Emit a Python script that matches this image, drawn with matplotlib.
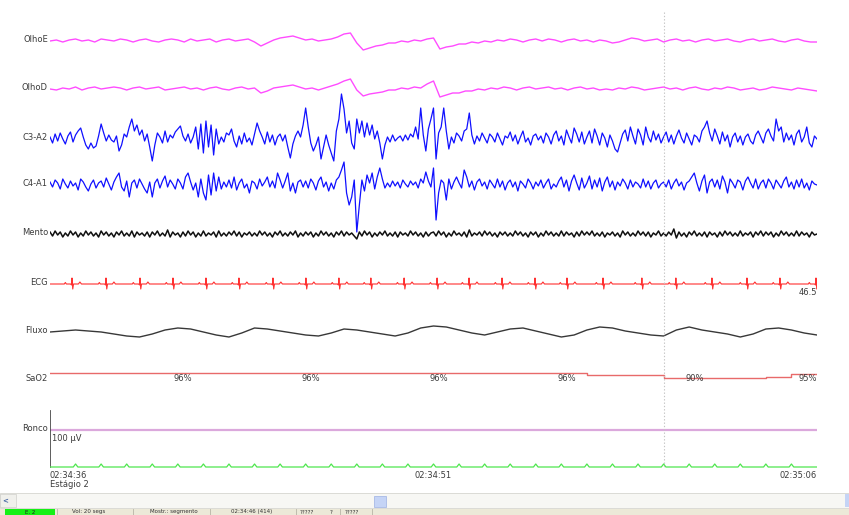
import numpy as np
import matplotlib
matplotlib.use("Agg")
import matplotlib.pyplot as plt
from matplotlib.patches import Rectangle

W, H = 849, 515
EPOCH_S = 30

# Trace deflections in screen pixels (positive = up), sampled uniformly over the epoch
olho_e = [0, 1, -1, 1, 2, 0, 1, -1, 2, 1,
          0, 2, 1, -1, 1, 2, 0, -1, 1, 2,
          1, -1, 2, 0, 1, 2, -1, 1, 2, 0,
          1, 2, -1, -5, -2, 1, 3, 4, 5, 3,
          1, 2, 0, 1, 2, 4, 7, 8, -2, -9,
          -7, -5, -4, -2, -2, 0, -1, 1, 0, 2,
          3, -8, -6, -5, -3, -3, -1, -2, 0, -1,
          1, 0, 2, 1, -1, 1, 2, 0, 2, 1,
          -1, 1, 2, 0, 1, -1, 1, 0, -2, -1,
          1, 3, 2, 0, 1, 2, -1, 1, 2, 0,
          1, -1, 1, 2, 0, 1, 2, 0, -1, 1,
          2, 0, 1, 2, 0, -1, 1, 2, 0, -1,
          -1]
olho_d = [0, -1, 1, 0, 2, -1, 1, 2, 0, 1,
          2, 1, -1, 1, 2, 0, 1, 2, -1, 0,
          1, 2, 0, 1, -1, 1, 2, 0, -1, 1,
          2, 0, 1, -4, -2, 1, 2, 3, 4, 2,
          0, 1, -1, 1, 3, 5, 8, 10, -1, -7,
          -5, -4, -3, -1, -1, 1, 0, 2, 1, 5,
          8, -8, -6, -4, -4, -2, -2, 0, -1, 1,
          0, 2, 1, -1, 1, 2, 0, 1, 2, 0,
          1, -1, 1, 2, 0, 1, -1, 0, -1, 1,
          0, 2, 1, -1, 0, 1, 2, 0, 1, -1,
          1, 2, 0, -1, 1, 0, 2, 1, -1, 0,
          1, -1, 0, 2, 1, 0, -1, 1, 0, -1,
          -2]
c3_a2 = [2, -4, 5, -2, 6, 0, -5, 3, 7, -3,
         4, 8, 11, 2, -6, -10, -4, -9, -7, 3,
         15, 6, -2, 4, -1, -3, 3, -12, -6, 5,
         2, 12, 20, 8, 14, 4, 9, -2, 5, -8,
         -22, -6, 6, 2, -4, 8, -3, 4, 1, 7,
         10, 13, 3, -2, 5, -4, 2, 12, -10, 15,
         -14, 18, -8, 14, -16, 10, -5, 2, -3, 6,
         4, 10, -2, -8, 3, -5, 6, -3, 1, -6,
         5, 16, 8, 2, -5, 7, -3, 4, -6, 2,
         5, -2, 4, -8, -19, -5, 3, 8, 2, 14,
         31, 12, -4, -12, -6, 2, -20, -8, 4, -6,
         -14, -22, 8, 20, 45, 30, 6, 18, -4, -10,
         20, 6, 18, 2, 16, 4, 14, 0, 8, -4,
         -20, -6, 2, -3, 4, -2, 1, 3, -2, 4,
         -1, 5, 2, 12, 0, 31, 4, -12, 10, 20,
         31, -20, 6, 12, 31, 8, -10, 2, -4, 6,
         3, -2, 8, 10, 26, 4, -5, 3, -2, 6,
         1, -4, 5, 2, -3, 6, 0, -6, 3, 1,
         7, -2, 4, -5, 2, 8, -3, 1, -6, 3,
         5, -1, 3, -4, 6, 2, -5, 4, 8, -2,
         3, -6, 9, 2, -4, 11, 5, -3, 7, -5,
         2, 8, -4, 10, 3, -6, 6, 1, -8, 4,
         -2, -10, -13, -4, 5, 9, -2, 12, 3, -5,
         10, 4, -6, 12, 2, -3, 8, -1, 5, -4,
         2, 7, -3, 4, -5, 3, 9, 1, -4, 6,
         0, -6, 4, 2, -3, 8, 12, 18, 6, -2,
         10, 3, -5, 7, -2, 4, -8, 2, 6, -3,
         3, -6, 2, 5, -2, -5, 4, 8, 2, -4,
         6, 10, 3, -2, 20, 8, 12, -3, 6, -1,
         4, -6, 5, 9, -3, 2, 12, -4, -8, 3,
         0]
c4_a1 = [3, -2, 5, 2, -4, 6, 1, -3, 4, -1,
         2, -5, 6, 3, -2, -6, 1, 5, -3, 2,
         4, -2, 7, 1, -5, 3, 8, 12, -2, -6,
         4, -12, 2, 5, -3, 6, 1, -4, -8, 3,
         -12, 2, 6, -3, 4, 9, -2, 5, 1, -4,
         6, 2, -4, 8, 12, 3, -5, 2, -12, 6,
         -8, -15, 10, -10, 12, -6, 8, -4, 3, -2,
         5, -3, 8, -5, 2, 6, -3, 1, -8, 4,
         2, -4, 6, -1, 3, 8, -2, 4, -3, 12,
         5, -3, 4, 12, -6, 2, -8, 3, 5, -2,
         4, -3, 6, 2, -5, 4, 8, -2, 3, -6,
         2, -4, 5, 8, 15, 23, -8, -20, -12, 5,
         -47, -20, 5, -6, 10, 2, 12, -4, 8, 17,
         6, -3, 2, -2, 4, -1, 3, -3, 5, 1,
         -2, 4, 0, 3, -3, 6, 2, 13, 4, -2,
         17, -35, -8, 5, 2, -15, 6, -4, 3, 8,
         2, -3, 15, 8, -2, 4, -5, 3, 6, -1,
         3, -4, 5, 1, -3, 6, -2, 4, -5, 2,
         5, -2, 3, -6, 4, 1, -3, 6, 2, -4,
         3, -1, 5, -3, 2, 6, -4, 1, -2, 4,
         8, -2, 5, -6, 4, 10, 2, -5, 7, -3,
         2, 9, -4, 5, -2, 7, -6, 3, 8, -2,
         4, -5, 3, -1, 6, 2, -4, 5, -2, 3,
         1, -3, 6, -2, 4, -4, 2, 5, -3, 1,
         3, -2, 5, -4, 2, 6, -1, 3, -5, 2,
         4, 8, 12, 2, -6, 4, 10, -8, 3, 6,
         -2, 5, -4, 9, 3, -8, 6, 2, -3, 5,
         3, -5, 4, 8, 2, -3, 6, -4, 2, 5,
         -3, 6, 2, -4, 5, 1, -3, 4, 8, -2,
         3, -4, 5, -2, 6, -3, 2, -5, 4, 1,
         0]
mento = [2, -2, 3, -1, 2, -3, 1, -2, 3, -1,
         2, -3, 1, -2, 3, -1, 2, -2, 1, -3,
         3, -1, 2, -2, 1, -3, 2, -1, 3, -2,
         1, -2, 3, -3, 2, -1, 1, -2, 2, -3,
         2, -1, 3, -2, 1, -2, 4, -3, 2, -1,
         1, -3, 2, -2, 3, -1, 2, -3, 1, -2,
         3, -2, 1, -1, 2, -3, 3, -2, 1, -2,
         2, -1, 3, -2, 2, -3, 1, -1, 2, -2,
         1, -2, 3, -1, 2, -2, 1, -3, 2, -1,
         3, -2, 1, -2, 2, -1, 3, -3, 1, -2,
         2, -1, 2, -3, 1, -2, 3, -1, 2, -2,
         1, -3, 2, -1, 3, -2, 2, -1, 1, -2,
         -5, 2, -2, 3, -1, 2, -3, 1, -2, 2,
         -1, 3, -2, 1, -2, 2, -3, 2, -1, 1,
         -2, 3, -1, 2, -2, 1, -3, 2, -2, 1,
         2, -2, 3, -1, 2, -3, 1, -2, 3, -1,
         1, -2, 2, -3, 4, -2, 1, -1, 2, -2,
         3, -1, 2, -2, 1, -3, 2, -1, 2, -2,
         1, -2, 3, -1, 2, -2, 1, -3, 2, -1,
         2, -3, 1, -2, 3, -1, 2, -2, 1, -2,
         3, -2, 2, -1, 1, -3, 2, -2, 3, -1,
         2, -1, 3, -2, 1, -2, 2, -3, 1, -1,
         2, -2, 1, -3, 3, -1, 2, -2, 1, -2,
         3, -1, 2, -2, 2, -3, 1, -1, 3, -2,
         1, -2, 2, -1, 5, -4, 2, -2, 1, -3,
         2, -1, 3, -2, 1, -2, 2, -3, 2, -1,
         1, -3, 2, -2, 3, -1, 2, -2, 1, -2,
         3, -2, 1, -1, 2, -3, 2, -1, 3, -2,
         2, -1, 2, -3, 1, -2, 3, -1, 2, -2,
         1, -2, 3, -2, 2, -1, 1, -3, 2, -1,
         0]
fluxo = [0, 1, 2, 1, 0, -2, -4, -5, -2, 2,
         4, 3, 0, -3, -5, -1, 4, 3, 1, -1,
         -3, -4, -1, 3, 2, 0, -2, -4, -1, 4,
         6, 5, 2, -1, -3, 0, 3, 4, 1, -2,
         -5, -3, 2, 5, 4, 1, -1, -3, -4, 2,
         5, 2, 0, -2, -5, -2, 3, 4, 2, -1,
         -3]

# R-peak times (s), heart rate shown at the end of the ECG row
ecg_beats = [0.86, 2.19, 3.52, 4.81, 6.10, 7.39, 8.72, 10.01, 11.30, 12.55,
             13.85, 15.14, 16.39, 17.68, 18.97, 20.22, 21.63, 23.15, 24.48,
             25.89, 27.26, 28.55, 29.96]
ecg_rate = 46.5
# one beat: offsets (s) from the R peak and deflection (px)
beat_dt = [-0.30, -0.26, -0.22, -0.05, -0.02, 0.0, 0.03, 0.06, 0.25, 0.31, 0.37]
beat_dv = [0, 1.5, 0, 0, -1, 6, -5, 0, 0, 2, 0]

# SpO2 per second (%)
sao2 = [96, 96, 96, 96, 96, 96, 96, 96, 96, 96,
        96, 96, 96, 96, 96, 96, 96, 96, 96, 96,
        96, 94, 94, 94, 90, 90, 90, 90, 91, 95]
sao2_label_times = [5, 10, 15, 20, 25]

time_labels = ["02:34:36", "02:34:51", "02:35:06"]
stage_label = "Estágio 2"
cursor_t = 24.0
scale_label = "100 µV"
status_cells = ["Vol: 20 segs", "Mostr.: segmento", "02:34:46 (414)", "?????", "?", "?????"]

# row layout (screen pixel baselines)
rows = {"OlhoE": 41, "OlhoD": 89, "C3-A2": 139, "C4-A1": 185, "Mento": 234,
        "ECG": 284, "Fluxo": 332, "SaO2": 373, "Ronco": 430}
TICK_ROW = 467
SAO2_PX = 0.8
LABEL_COL = "#3c3c3c"
FS = 6

fig = plt.figure(figsize=(W / 100, H / 100), dpi=100)
fig.patch.set_facecolor("white")

# full-window axes in pixel units for labels and window chrome
ui = fig.add_axes([0, 0, 1, 1])
ui.set_xlim(0, W)
ui.set_ylim(H, 0)
ui.axis("off")

# trace area: seconds horizontally, pixel rows vertically
x0, x1 = 50, 817
ax = fig.add_axes([x0 / W, 0, (x1 - x0) / W, 1])
ax.set_xlim(0, EPOCH_S)
ax.set_ylim(H, 0)
ax.axis("off")
ax.patch.set_alpha(0)


def trace(vals, base, **kw):
    v = np.asarray(vals, float)
    t = np.linspace(0, EPOCH_S, len(v))
    ax.plot(t, base - v, solid_joinstyle="round", **kw)


trace(olho_e, rows["OlhoE"], color="#ff4cff", lw=1.0)
trace(olho_d, rows["OlhoD"], color="#ff4cff", lw=1.0)
trace(c3_a2, rows["C3-A2"], color="#1010ff", lw=0.9)
trace(c4_a1, rows["C4-A1"], color="#1010ff", lw=0.9)
trace(mento, rows["Mento"], color="#101010", lw=1.1)
trace(fluxo, rows["Fluxo"], color="#383838", lw=1.0)

# ECG assembled from beat times
et, ev = [0.0], [0.0]
for b in ecg_beats:
    for dt, dv in zip(beat_dt, beat_dv):
        et.append(b + dt)
        ev.append(dv)
et.append(EPOCH_S + 0.5)
ev.append(0.0)
ax.plot(et, rows["ECG"] - np.array(ev), color="#ff3030", lw=0.8)
ui.text(x1, rows["ECG"] + 11, f"{ecg_rate}", ha="right", va="baseline",
        fontsize=FS, color=LABEL_COL)

# SaO2 step trace and value labels
s_t = np.arange(len(sao2) + 1)
s_v = np.array(sao2 + [sao2[-1]], float)
ax.step(s_t, rows["SaO2"] - (s_v - 96) * SAO2_PX, where="post",
        color="#e86a6a", lw=1.0)
for st in sao2_label_times:
    ax.text(st + 0.2, rows["SaO2"] + 8, f"{sao2[st]}%", ha="center",
            va="baseline", fontsize=FS, color=LABEL_COL)
ax.text(EPOCH_S, rows["SaO2"] + 8, f"{sao2[-1]}%", ha="right",
        va="baseline", fontsize=FS, color=LABEL_COL)

# Ronco row with amplitude scale bar
ax.plot([0, EPOCH_S], [rows["Ronco"]] * 2, color="#dba8dc", lw=1.6)
ax.plot([0, 0], [411, TICK_ROW], color="#505050", lw=1.3)
ui.text(x0 + 2, rows["Ronco"] + 11, scale_label, ha="left", va="baseline",
        fontsize=FS, color=LABEL_COL)

# one-second marks
mt, mv = [0.0], [0.0]
for s in range(1, EPOCH_S):
    mt += [s - 0.09, s, s + 0.09]
    mv += [0, 3, 0]
mt.append(EPOCH_S)
mv.append(0.0)
ax.plot(mt, TICK_ROW - np.array(mv), color="#4ee64e", lw=0.9)

# cursor
ax.plot([cursor_t, cursor_t], [12, TICK_ROW], color="#c4c4c4", lw=0.8,
        ls=(0, (1.2, 1.8)))

# channel names
for name, base in rows.items():
    yb = base + 1 if name != "SaO2" else base + 8
    ui.text(48, yb, name, ha="right", va="baseline", fontsize=FS,
            color=LABEL_COL)

# time axis labels
ax.text(0, 478, time_labels[0], ha="left", va="baseline", fontsize=FS, color=LABEL_COL)
ax.text(0, 487, stage_label, ha="left", va="baseline", fontsize=FS, color=LABEL_COL)
ax.text(EPOCH_S / 2, 478, time_labels[1], ha="center", va="baseline", fontsize=FS, color=LABEL_COL)
ax.text(EPOCH_S, 478, time_labels[2], ha="right", va="baseline", fontsize=FS, color=LABEL_COL)

# horizontal scrollbar
ui.add_patch(Rectangle((0, 493), W, 15, facecolor="#f7f7f4", edgecolor="#d6d6d0", lw=0.6))
ui.add_patch(Rectangle((0, 494), 16, 13, facecolor="#f0f0ec", edgecolor="#d0d0cc", lw=0.5))
ui.text(5, 501, "<", ha="center", va="center", fontsize=5, color="#4060a0",
        fontweight="bold")
ui.add_patch(Rectangle((374, 496), 12, 11, facecolor="#c5d4f6", edgecolor="#a8b9e6", lw=0.6))
ui.add_patch(Rectangle((845, 494), 4, 13, facecolor="#c5d4f6", edgecolor="none"))

# status bar along the bottom edge
ui.add_patch(Rectangle((0, 508.5), W, 8, facecolor="#ece9d8", edgecolor="none"))
ui.add_patch(Rectangle((5, 509), 50, 8, facecolor="#16f016", edgecolor="none"))
ui.text(30, 512, "E. 2", ha="center", va="center", fontsize=4, color="#222222")
cells_x = [72, 150, 231, 300, 330, 345]
for cx, txt in zip(cells_x, status_cells):
    ui.text(cx, 512, txt, ha="left", va="center", fontsize=4, color="#333333")
for sx in [57, 133, 210, 296, 340, 372]:
    ui.plot([sx, sx], [509, H], color="#b8b5a6", lw=0.6)

fig.savefig("out.png", dpi=100, facecolor="white")
